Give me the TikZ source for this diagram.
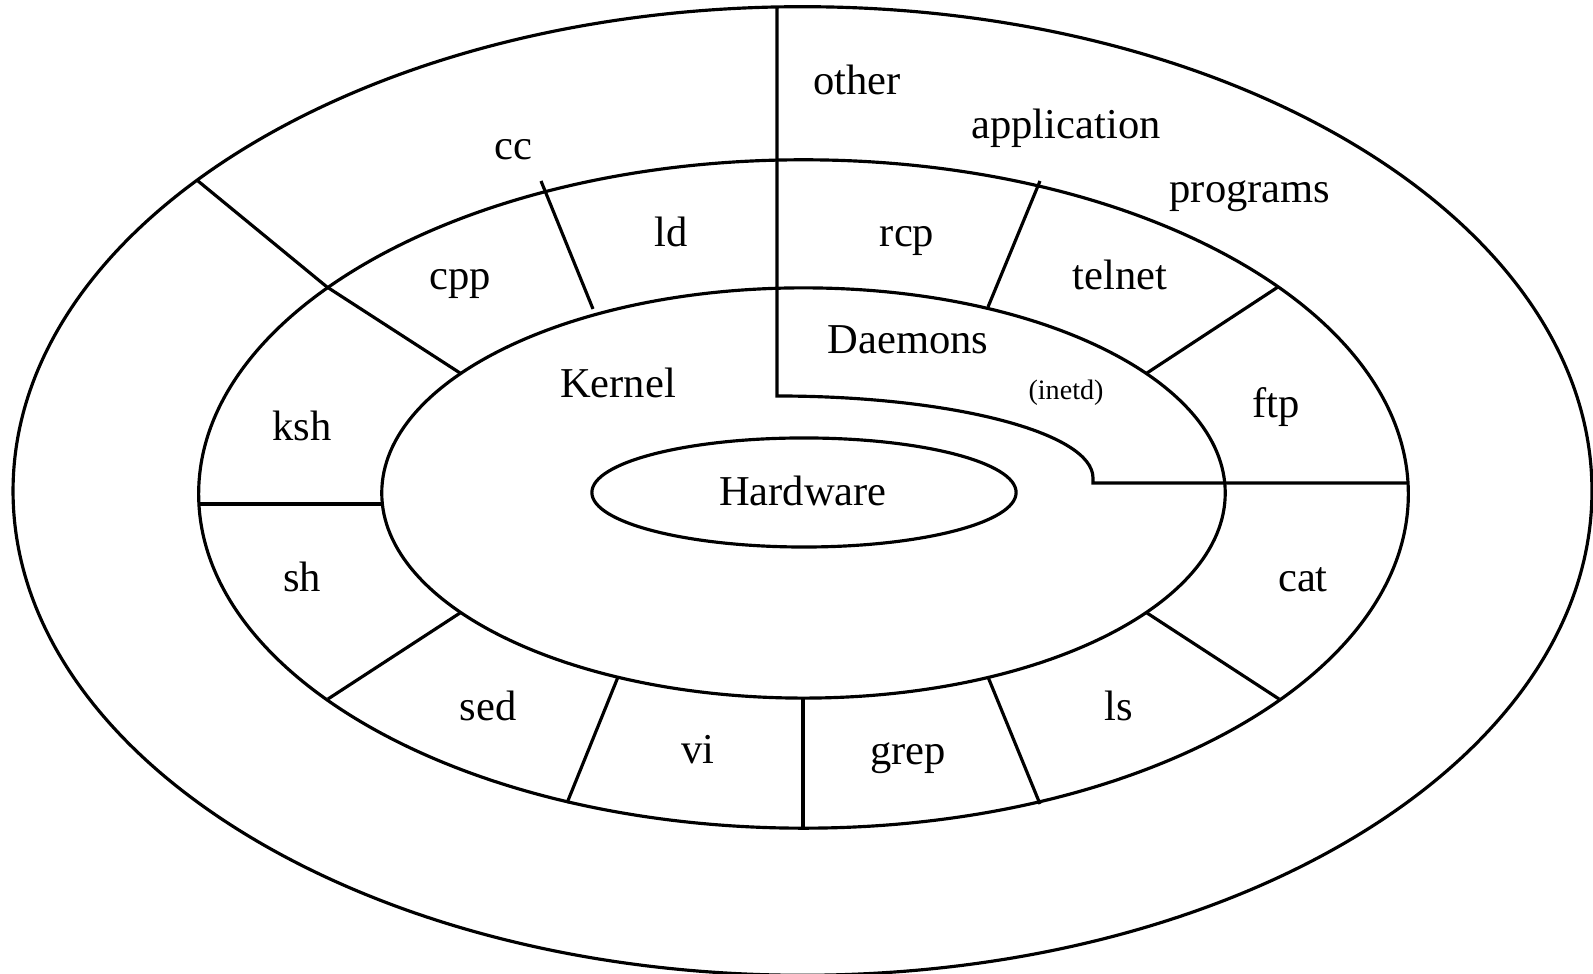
\documentclass[tikz,border=0pt]{standalone}
\usepackage{fontspec}
\setmainfont{Liberation Serif}
\begin{document}
\begin{tikzpicture}[x=0.01cm,y=-0.01cm,
  ring/.style={line width=0.9pt},
  divider/.style={line width=0.9pt},
  lbl/.style={inner sep=0pt,anchor=base,font=\fontsize{12.1pt}{14pt}\selectfont},
  smalllbl/.style={inner sep=0pt,anchor=base,font=\fontsize{8pt}{10pt}\selectfont}]
\useasboundingbox (0,0) rectangle (1593,974);
% rings
\draw[ring] (802.5,491) ellipse [x radius=7.89cm, y radius=4.84cm];
\draw[ring] (803.5,494) ellipse [x radius=6.045cm, y radius=3.34cm];
\draw[ring] (803.5,493) ellipse [x radius=4.215cm, y radius=2.05cm];
\draw[ring] (804,492.5) ellipse [x radius=2.12cm, y radius=0.545cm];
% divider end points
\coordinate (a1) at (198,181);   \coordinate (a0) at (327,287);  \coordinate (a2) at (460,373);
\coordinate (b1) at (541,181);   \coordinate (b2) at (593,309);
\coordinate (c1) at (1040,181);  \coordinate (c2) at (988,307);
\coordinate (d1) at (1278,287);  \coordinate (d2) at (1147,373);
\coordinate (e1) at (199,504);   \coordinate (e2) at (382,504);
\coordinate (f1) at (328,699);   \coordinate (f2) at (460,613);
\coordinate (g1) at (567,803);   \coordinate (g2) at (618,677);
\coordinate (h1) at (803,828);   \coordinate (h2) at (803,698);
\coordinate (i1) at (1040,804);  \coordinate (i2) at (988,677);
\coordinate (j1) at (1279,699);  \coordinate (j2) at (1147,613);
\coordinate (k1) at (777,7);     \coordinate (k2) at (777,396);
\coordinate (k3) at (1093,478);  \coordinate (k4) at (1093,483);
\coordinate (k5) at (1408,483);
% dividers
\draw[divider] (a1) -- (a0) -- (a2);
\draw[divider] (b1) -- (b2);
\draw[divider] (c1) -- (c2);
\draw[divider] (d1) -- (d2);
\draw[divider] (e1) -- (e2);
\draw[divider] (f1) -- (f2);
\draw[divider] (g1) -- (g2);
\draw[divider] (h1) -- (h2);
\draw[divider] (i1) -- (i2);
\draw[divider] (j1) -- (j2);
\draw[divider] (k1) -- (k2) .. controls (951.5,396) and (1093,432.7) .. (k3) -- (k4) -- (k5);
% labels
\node[lbl] (other) at (857,95) {other};
\node[lbl] (application) at (1066,139) {application};
\node[lbl] (programs) at (1250,203) {programs};
\node[lbl] (cc) at (513,160) {cc};
\node[lbl] (ld) at (671,247) {ld};
\node[lbl] (cpp) at (460,290) {cpp};
\node[lbl] (rcp) at (907,247) {rcp};
\node[lbl] (telnet) at (1120,290) {telnet};
\node[lbl] (daemons) at (908,354) {Daemons};
\node[smalllbl] (inetd) at (1066,400) {(inetd)};
\node[lbl] (kernel) at (618,398) {Kernel};
\node[lbl] (ftp) at (1276,418) {ftp};
\node[lbl] (ksh) at (302,441) {ksh};
\node[lbl] (hardware) at (803,506) {Hardware};
\node[lbl] (sh) at (302,592) {sh};
\node[lbl] (cat) at (1303,592) {cat};
\node[lbl] (sed) at (488,721) {sed};
\node[lbl] (ls) at (1119,721) {ls};
\node[lbl] (vi) at (698,764) {vi};
\node[lbl] (grep) at (908,765) {grep};
\end{tikzpicture}
\end{document}
